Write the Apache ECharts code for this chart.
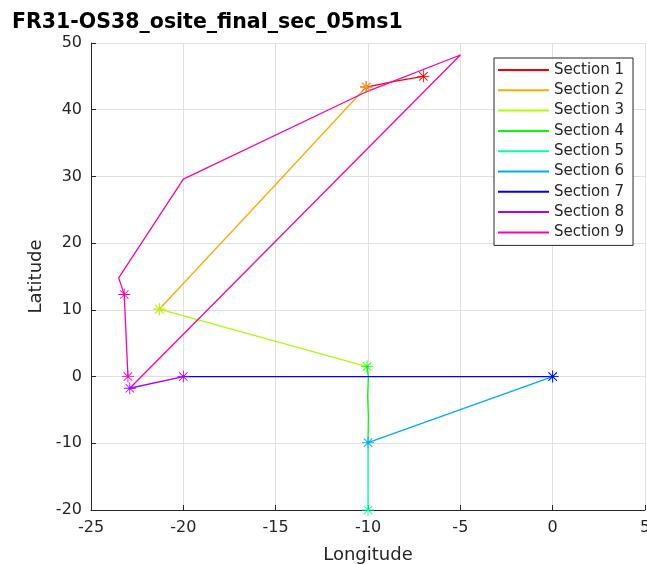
<!DOCTYPE html>
<html>
<head>
<meta charset="utf-8">
<script src="https://cdn.jsdelivr.net/npm/echarts@6/dist/echarts.min.js"></script>
<style>
html,body{margin:0;padding:0;background:#fff;}
#c{width:647px;height:564px;}
</style>
</head>
<body>
<div id="c"></div>
<script>
// ---- data ----
const titleText = 'FR31-OS38_osite_final_sec_05ms1';
const sectionNames = ['Section 1','Section 2','Section 3','Section 4','Section 5','Section 6','Section 7','Section 8','Section 9'];
const sec1Lon = [-7, -8.5, -10.1];
const sec1Lat = [45, 44.3, 43.4];
const sec2Lon = [-10.1, -15.1, -21.3];
const sec2Lat = [43.4, 28.5, 10.1];
const sec3Lon = [-21.3, -10.05];
const sec3Lat = [10.1, 1.5];
const sec4Lon = [-10.05, -9.98, -10.02, -9.98, -10];
const sec4Lat = [1.5, 0, -3, -6, -9.9];
const sec5Lon = [-10, -10];
const sec5Lat = [-9.9, -20];
const sec6Lon = [-10, 0];
const sec6Lat = [-9.9, 0];
const sec7Lon = [0, -20];
const sec7Lat = [0, 0];
const sec8Lon = [-20, -22.9];
const sec8Lat = [0, -1.75];
const sec9Lon = [-22.9, -5, -10, -20, -23.5, -23.2, -23];
const sec9Lat = [-1.75, 48.2, 42.8, 29.6, 14.8, 12.3, 0];
// indices of points marked with an asterisk
const sec1Stars = [0, 2];
const sec2Stars = [0, 2];
const sec3Stars = [0];
const sec4Stars = [0];
const sec5Stars = [1];
const sec6Stars = [0, 1];
const sec7Stars = [0];
const sec8Stars = [0, 1];
const sec9Stars = [5, 6];
const xTicks = [-25, -20, -15, -10, -5, 0, 5];
const yTicks = [-20, -10, 0, 10, 20, 30, 40, 50];

// ---- styling ----
const colors = ['#ff0000','#ffaa00','#aaff00','#00ff00','#00ffaa','#00aaff','#0000ff','#aa00ff','#ff00aa'];
const star = 'path://M9.3 0L10.7 0L10.7 20L9.3 20Z M0 9.3L20 9.3L20 10.7L0 10.7Z M3.43 2.43L17.57 16.57L16.57 17.57L2.43 3.43Z M16.57 2.43L17.57 3.43L3.43 17.57L2.43 16.57Z';
const lons = [sec1Lon,sec2Lon,sec3Lon,sec4Lon,sec5Lon,sec6Lon,sec7Lon,sec8Lon,sec9Lon];
const lats = [sec1Lat,sec2Lat,sec3Lat,sec4Lat,sec5Lat,sec6Lat,sec7Lat,sec8Lat,sec9Lat];
const stars = [sec1Stars,sec2Stars,sec3Stars,sec4Stars,sec5Stars,sec6Stars,sec7Stars,sec8Stars,sec9Stars];
const textColor = '#262626';
const font = 'DejaVu Sans';

const series = sectionNames.map((name, i) => ({
  name: name,
  type: 'line',
  color: colors[i],
  lineStyle: {width: 1.3, color: colors[i]},
  itemStyle: {color: colors[i]},
  symbol: star,
  symbolSize: 12,
  showSymbol: true,
  showAllSymbol: true,
  animation: false,
  silent: true,
  data: lons[i].map((x, j) => ({
    value: [x, lats[i][j]],
    symbol: stars[i].indexOf(j) >= 0 ? star : 'none'
  }))
}));

const chart = echarts.init(document.getElementById('c'), null, {renderer: 'canvas'});
chart.setOption({
  backgroundColor: '#ffffff',
  animation: false,
  title: {
    text: titleText,
    left: 7,
    top: 7,
    textStyle: {fontFamily: font, fontSize: 20.5, fontWeight: 'bold', color: '#000'}
  },
  grid: {left: 91, right: 2, top: 43, bottom: 54, containLabel: false, outerBoundsMode: 'none'},
  xAxis: {
    type: 'value',
    min: xTicks[0], max: xTicks[xTicks.length - 1], interval: 5,
    name: 'Longitude', nameLocation: 'middle', nameGap: 36,
    nameTextStyle: {fontFamily: font, fontSize: 18, color: textColor},
    axisLine: {show: true, onZero: false, lineStyle: {color: textColor, width: 1}},
    axisTick: {show: true, inside: true, length: 5, lineStyle: {color: textColor}},
    axisLabel: {fontFamily: font, fontSize: 16, color: textColor, margin: 10},
    splitLine: {show: true, lineStyle: {color: '#e0e0e0', width: 1}}
  },
  yAxis: {
    type: 'value',
    min: yTicks[0], max: yTicks[yTicks.length - 1], interval: 10,
    name: 'Latitude', nameLocation: 'middle', nameGap: 44,
    nameTextStyle: {fontFamily: font, fontSize: 18, color: textColor},
    axisLine: {show: true, onZero: false, lineStyle: {color: textColor, width: 1}},
    axisTick: {show: true, inside: true, length: 5, lineStyle: {color: textColor}},
    axisLabel: {fontFamily: font, fontSize: 16, color: textColor, margin: 9},
    splitLine: {show: true, lineStyle: {color: '#e0e0e0', width: 1}}
  },
  legend: {
    data: sectionNames,
    orient: 'vertical',
    left: 494, top: 58,
    padding: [4, 9, 5, 4],
    backgroundColor: '#ffffff',
    borderColor: textColor, borderWidth: 1,
    icon: 'rect',
    itemWidth: 51, itemHeight: 2,
    itemGap: 4.3,
    itemTextGap: 5,
    selectedMode: false,
    textStyle: {fontFamily: font, fontSize: 15, color: textColor, lineHeight: 16}
  },
  series: series
});
</script>
</body>
</html>
